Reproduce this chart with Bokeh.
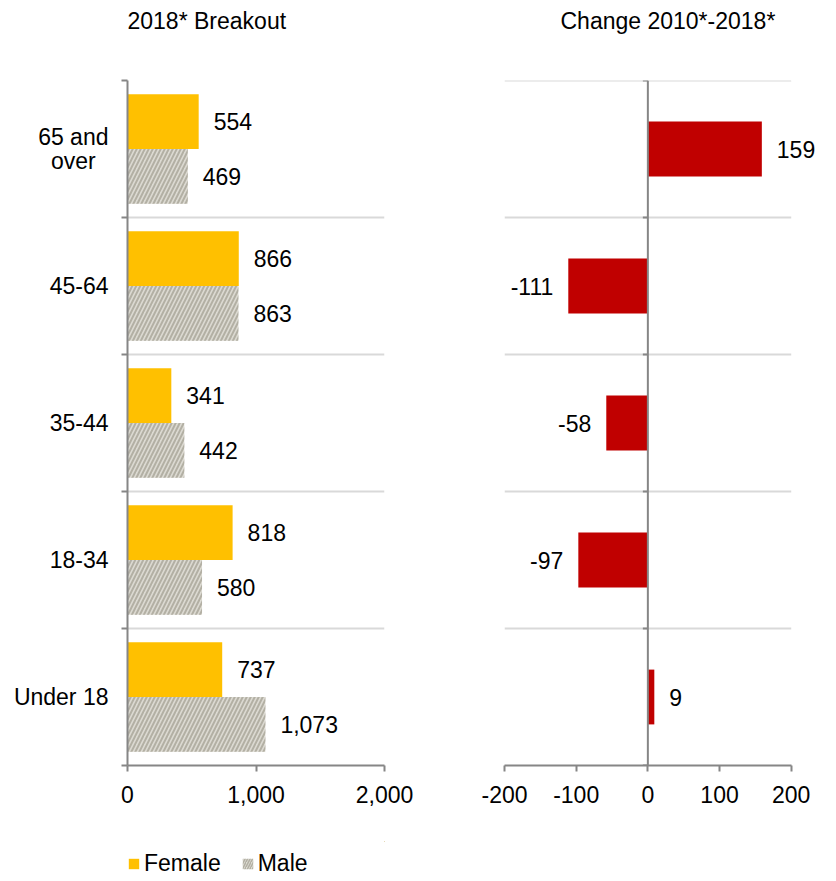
from bokeh.plotting import figure
from bokeh.models import (ColumnDataSource, Range1d, FixedTicker, LabelSet, Legend,
                          LegendItem, Span, NumeralTickFormatter, LinearAxis)
from bokeh.core.properties import value
from bokeh.layouts import row, column
from bokeh.transform import dodge
from bokeh.embed import file_html
from bokeh.resources import INLINE

# ---- data ----
categories = ["65 and over", "45-64", "35-44", "18-34", "Under 18"]
category_labels = ["65 and\nover\u00a0\u00a0", "45-64", "35-44", "18-34", "Under 18"]
female = [554, 866, 341, 818, 737]
male = [469, 863, 442, 580, 1073]
change = [159, -111, -58, -97, 9]
left_ticks = [0, 1000, 2000]
right_ticks = [-200, -100, 0, 100, 200]

FONT = "Liberation Sans"
FS = "23px"
TXT = "#000000"
AX = "#868686"
GRID = "#D9D9D9"
YELLOW = "#FFC000"
RED = "#C00000"
MALE_FILL = "#DCDAD2"
MALE_HATCH = "#B3B0A4"
n = len(categories)
centers = [i + 0.5 for i in range(n)]
bounds = list(range(n + 1))

src = ColumnDataSource(dict(
    y=centers, female=female, male=male, change=change,
    fl=[f"{v:,}" for v in female], ml=[f"{v:,}" for v in male],
))
pos = [i for i, v in enumerate(change) if v >= 0]
neg = [i for i, v in enumerate(change) if v < 0]
src_pos = ColumnDataSource(dict(y=[centers[i] for i in pos], change=[change[i] for i in pos],
                                lbl=[f"{change[i]:,}" for i in pos]))
src_neg = ColumnDataSource(dict(y=[centers[i] for i in neg], change=[change[i] for i in neg],
                                lbl=[f"{change[i]:,}" for i in neg]))


def spacer(size, tick):
    # blank axis (white tick, empty label) that only reserves space between title and frame
    return LinearAxis(ticker=FixedTicker(ticks=[tick]), major_label_overrides={tick: ""},
                      axis_line_color=None, major_tick_line_color="#ffffff",
                      minor_tick_line_color=None, major_tick_in=0, major_tick_out=size,
                      minor_tick_in=0, minor_tick_out=0, major_label_standoff=0)


def style_common(p, ticks, fmt):
    xa = p.below[0]
    p.outline_line_color = None
    p.xgrid.visible = False
    p.title.text_font = FONT
    p.title.text_font_size = FS
    p.title.text_font_style = "normal"
    p.title.text_color = TXT
    p.title.standoff = 0
    xa.ticker = FixedTicker(ticks=ticks)
    xa.formatter = NumeralTickFormatter(format=fmt)
    xa.axis_line_color = AX
    xa.axis_line_width = 2
    xa.major_tick_line_color = AX
    xa.major_tick_line_width = 2
    xa.major_tick_in = 0
    xa.major_tick_out = 6
    xa.minor_tick_line_color = None
    xa.major_label_text_font = FONT
    xa.major_label_text_font_size = FS
    xa.major_label_text_color = TXT
    xa.major_label_standoff = 14
    p.add_layout(spacer(47, ticks[-1]), "above")
    return xa


def labels(p, x, y, text, source, offset, align):
    p.add_layout(LabelSet(x=x, y=y, text=text, source=source, x_offset=offset,
                          text_baseline="middle", text_align=align,
                          text_font=value(FONT), text_font_size=value(FS),
                          text_color=value(TXT)))


# ---- left panel ----
p1 = figure(width=432, height=841, x_range=Range1d(0, 2000), y_range=Range1d(n, 0),
            output_backend="svg", toolbar_location=None,
            min_border_left=127, min_border_right=48, min_border_top=80, min_border_bottom=76,
            title="2018* Breakout")
style_common(p1, left_ticks, "0,0")
p1.title.align = "left"
p1.ygrid.ticker = FixedTicker(ticks=bounds)
p1.ygrid.grid_line_color = GRID
p1.ygrid.grid_line_width = 2

p1.hbar(y=dodge("y", -0.2, range=p1.y_range), right="female", left=0, height=0.4,
        fill_color=YELLOW, line_color=None, source=src)
p1.hbar(y=dodge("y", 0.2, range=p1.y_range), right="male", left=0, height=0.4,
        fill_color=MALE_FILL, hatch_pattern="/", hatch_color=MALE_HATCH,
        hatch_scale=8, hatch_weight=2, line_color=None, source=src)

labels(p1, "female", dodge("y", -0.2, range=p1.y_range), "fl", src, 15, "left")
labels(p1, "male", dodge("y", 0.2, range=p1.y_range), "ml", src, 15, "left")

ya = p1.left[0]
ya.ticker = FixedTicker(ticks=centers, minor_ticks=bounds)
ya.major_label_overrides = {c: l for c, l in zip(centers, category_labels)}
ya.axis_line_color = AX
ya.axis_line_width = 2
ya.major_tick_line_color = None
ya.major_tick_in = 0
ya.major_tick_out = 0
ya.minor_tick_line_color = AX
ya.minor_tick_line_width = 2
ya.minor_tick_in = 0
ya.minor_tick_out = 6
ya.major_label_text_font = FONT
ya.major_label_text_font_size = FS
ya.major_label_text_color = TXT
ya.major_label_text_line_height = 0.95
ya.major_label_standoff = 13

# ---- legend strip under the left panel (keys drawn from the same data, out of view) ----
leg = figure(width=432, height=36, x_range=Range1d(-2, -1), y_range=Range1d(-2, -1),
             output_backend="svg", toolbar_location=None, min_border=0,
             x_axis_location=None, y_axis_location=None)
leg.outline_line_color = None
leg.grid.visible = False
leg.background_fill_color = None
leg.border_fill_color = None
lf = leg.hbar(y="y", right="female", height=0.4, fill_color=YELLOW, line_color=None, source=src)
lm = leg.hbar(y="y", right="male", height=0.4, fill_color=MALE_FILL, hatch_pattern="/",
              hatch_color=MALE_HATCH, hatch_scale=5, hatch_weight=1.5, line_color=None, source=src)
legend = Legend(items=[LegendItem(label="Female", renderers=[lf]),
                       LegendItem(label="Male", renderers=[lm])],
                orientation="horizontal", location=(0, 0),
                label_text_font=FONT, label_text_font_size=FS, label_text_color=TXT,
                glyph_width=13, glyph_height=13, label_standoff=4, spacing=20,
                padding=0, margin=0, border_line_color=None, background_fill_alpha=0)
leg.add_layout(legend, "center")

# ---- right panel ----
p2 = figure(width=396, height=877, x_range=Range1d(-200, 252), y_range=Range1d(n, 0),
            output_backend="svg", toolbar_location=None,
            min_border_left=72, min_border_right=0, min_border_top=80, min_border_bottom=112,
            title="Change 2010*-2018*")
xa2 = style_common(p2, right_ticks, "0")
xa2.bounds = (right_ticks[0], right_ticks[-1])
p2.title.align = "left"
p2.title.offset = 56
p2.ygrid.visible = False
p2.yaxis.visible = False

p2.segment(x0=right_ticks[0], x1=right_ticks[-1], y0=bounds[:-1], y1=bounds[:-1],
           line_color=GRID, line_width=2)
p2.hbar(y="y", right="change", left=0, height=0.4, fill_color=RED, line_color=None, source=src)
p2.add_layout(Span(location=0, dimension="height", line_color=AX, line_width=2))
tick_len = 5 * 400 / 286
p2.segment(x0=-tick_len, x1=0, y0=bounds, y1=bounds, line_color=AX, line_width=2)

labels(p2, "change", "y", "lbl", src_pos, 15, "left")
labels(p2, "change", "y", "lbl", src_neg, -15, "right")

layout = row(column(p1, leg), p2)
open("out.html", "w").write(file_html(layout, INLINE))
